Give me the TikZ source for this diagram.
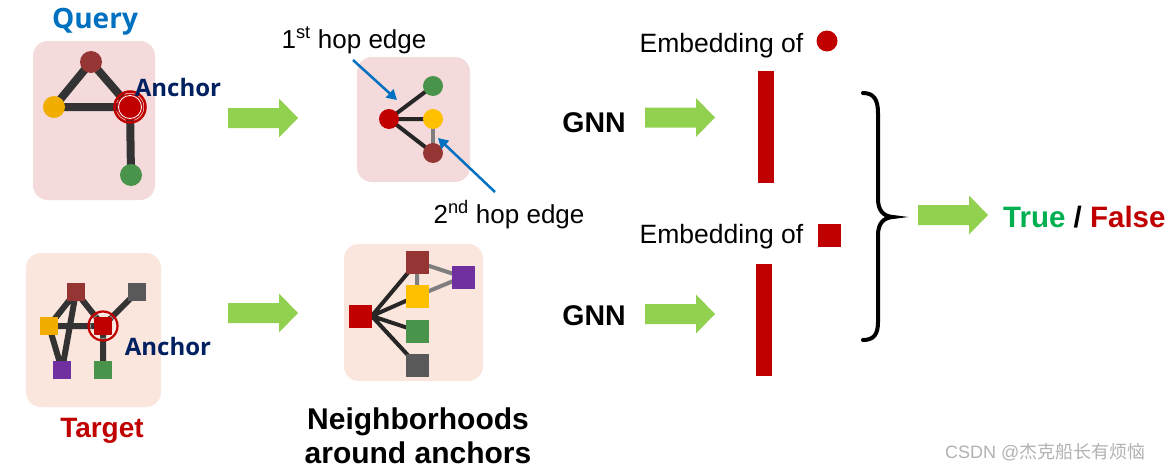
\documentclass[tikz,border=0pt]{standalone}
\usepackage{fontspec}
\setmainfont{Liberation Sans}
\newfontfamily\osb{Open Sans}
\newfontfamily\cjk{Noto Sans CJK SC}
\usetikzlibrary{arrows.meta}
\pgfdeclarelayer{back}
\pgfdeclarelayer{bg}
\pgfsetlayers{back,bg,main}
\definecolor{qbox}{HTML}{F4DADA}
\definecolor{tbox}{HTML}{FAE6DC}
\definecolor{dred}{HTML}{963634}
\definecolor{ylw}{HTML}{F2AE00}
\definecolor{ylw2}{HTML}{FFC000}
\definecolor{grn}{HTML}{4A934A}
\definecolor{rd}{HTML}{C00000}
\definecolor{gry}{HTML}{595959}
\definecolor{prp}{HTML}{7030A0}
\definecolor{edg}{HTML}{333333}
\definecolor{edg2}{HTML}{262626}
\definecolor{edgg}{HTML}{7F7F7F}
\definecolor{qblue}{HTML}{0070C0}
\definecolor{navy}{HTML}{002060}
\definecolor{arrg}{HTML}{92D050}
\definecolor{tgreen}{HTML}{00B050}
\tikzset{
  x=1pt, y=-1pt,
  box/.style={rounded corners=15pt},
  dot/.style={circle, inner sep=0pt, minimum size=22pt},
  sq/.style={rectangle, inner sep=0pt, minimum size=#1},
  txt/.style={inner sep=0pt, anchor=base},
  qedge/.style={line width=8pt, draw=edg},
  tedge/.style={line width=6pt, draw=edg},
  nedge/.style={line width=4pt, draw=edg2},
  gedge/.style={line width=4pt, draw=edgg},
  bluearrow/.style={draw=qblue, line width=2.5pt, -{Triangle[length=10pt,width=11pt]}},
}
\newcommand{\greenarrow}[2]{% left x, center y
  \fill[arrg] (#1,#2-10) -- (#1+51,#2-10) -- (#1+51,#2-19.5) -- (#1+70,#2) -- (#1+51,#2+19.5) -- (#1+51,#2+10) -- (#1,#2+10) -- cycle;}
\begin{document}
\begin{tikzpicture}
\begin{pgfonlayer}{back}
\useasboundingbox[fill=white] (0,0) rectangle (1171,471);
\fill[qbox, box] (33,41) rectangle (155,200);
\fill[tbox, box] (26,253) rectangle (161,407);
\fill[qbox, box] (357,57) rectangle (470,182);
\fill[tbox, box] (344,244) rectangle (483,381);
\end{pgfonlayer}

% ---------- Query ----------
\node[txt, font=\osb\bfseries\fontsize{28}{32}\selectfont, text=qblue] (qlabel) at (95,28) {Query};
\node[dot, fill=dred] (q1) at (91,62) {};
\node[dot, fill=ylw] (q2) at (54,107) {};
\node[circle, inner sep=0pt, minimum size=27pt, fill=rd] (qa) at (130,107) {};
\node[dot, fill=grn] (q4) at (131,175) {};
\draw[rd, line width=2.5pt] (qa.center) circle (15.5pt);
\draw[white, line width=0.8pt] (qa.center) circle (11.5pt);
\begin{pgfonlayer}{bg}
\draw[qedge] (q1.center) -- (q2.center) (q1.center) -- (qa.center) (q2.center) -- (qa.center) (qa.center) -- (q4.center);
\end{pgfonlayer}
\node[txt, font=\osb\bfseries\fontsize{24}{28}\selectfont, text=navy] (qanchor) at (178,96) {Anchor};

% ---------- Target ----------
\node[sq=18pt, fill=dred] (t1) at (76,292) {};
\node[sq=18pt, fill=gry] (t2) at (137,292) {};
\node[sq=18pt, fill=ylw] (t3) at (49,326) {};
\node[sq=18pt, fill=rd] (ta) at (103,326) {};
\node[sq=18pt, fill=prp] (t5) at (62,370) {};
\node[sq=18pt, fill=grn] (t6) at (103,370) {};
\draw[rd, line width=2.2pt] (ta.center) circle (14.5pt);
\draw[white, line width=0.5pt, opacity=0.7] (ta.center) circle (12.5pt);
\begin{pgfonlayer}{bg}
\draw[tedge] (t1.center) -- (t3.center) (t1.center) -- (ta.center) (t1.center) -- (t5.center)
  (t3.center) -- (ta.center) (t3.center) -- (t5.center) (ta.center) -- (t2.center) (ta.center) -- (t6.center);
\end{pgfonlayer}
\node[txt, font=\osb\bfseries\fontsize{24}{28}\selectfont, text=navy] (tanchor) at (168,355) {Anchor};
\node[txt, font=\bfseries\fontsize{28}{32}\selectfont, text=rd] (tlabel) at (102,437) {Target};

% ---------- green arrows ----------
\greenarrow{228}{118}
\greenarrow{228}{313}
\greenarrow{645}{117.5}
\greenarrow{645}{314}
\greenarrow{918}{215}

% ---------- Query neighbourhood ----------
\node[dot, minimum size=20pt, fill=rd] (n1) at (389,119) {};
\node[dot, minimum size=20pt, fill=grn] (n2) at (433,86) {};
\node[dot, minimum size=20pt, fill=ylw2] (n3) at (433,119) {};
\node[dot, minimum size=20pt, fill=dred] (n4) at (433,153) {};
\begin{pgfonlayer}{bg}
\draw[nedge] (n1.center) -- (n2.center) (n1.center) -- (n3.center) (n1.center) -- (n4.center);
\draw[gedge] (n3.center) -- (n4.center);
\end{pgfonlayer}
\node[txt, font=\fontsize{26}{30}\selectfont] (hop1) at (354,48) {1\textsuperscript{st} hop edge};
\node[txt, font=\fontsize{26}{30}\selectfont] (hop2) at (509,223) {2\textsuperscript{nd} hop edge};
\coordinate (h1s) at (353,60);
\coordinate (h1e) at (397,100);
\coordinate (h2s) at (495,192);
\coordinate (h2e) at (438,138);
\draw[bluearrow] (h1s) -- (h1e);
\draw[bluearrow] (h2s) -- (h2e);

% ---------- Target neighbourhood ----------
\node[sq=23pt, fill=rd] (m1) at (360,316) {};
\node[sq=23pt, fill=dred] (m2) at (417,262) {};
\node[sq=23pt, fill=ylw2] (m3) at (417,296) {};
\node[sq=23pt, fill=grn] (m4) at (417,331) {};
\node[sq=23pt, fill=gry] (m5) at (417,365) {};
\node[sq=23pt, fill=prp] (m6) at (463,277) {};
\begin{pgfonlayer}{bg}
\draw[nedge] (m1.east) -- (m2.center) (m1.east) -- (m3.center) (m1.east) -- (m4.center) (m1.east) -- (m5.center);
\draw[gedge] (m2.center) -- (m3.center) (m2.center) -- (m6.center) (m3.center) -- (m6.center);
\end{pgfonlayer}
\node[txt, font=\bfseries\fontsize{30}{34}\selectfont] (nlabel1) at (418,429) {Neighborhoods};
\node[txt, font=\bfseries\fontsize{30}{34}\selectfont] (nlabel2) at (418,463) {around anchors};

% ---------- GNN and embeddings ----------
\node[txt, font=\bfseries\fontsize{28.5}{32}\selectfont] (gnn1) at (594,132) {GNN};
\node[txt, font=\bfseries\fontsize{28.5}{32}\selectfont] (gnn2) at (594,325) {GNN};
\node[txt, font=\fontsize{26.5}{30}\selectfont] (emb1) at (721.5,52) {Embedding of};
\node[circle, inner sep=0pt, minimum size=21pt, fill=rd] (emb1c) at (827,41) {};
\node[txt, font=\fontsize{26.5}{30}\selectfont] (emb2) at (721.5,243) {Embedding of};
\node[sq=23pt, fill=rd] (emb2s) at (829.5,235.5) {};
\fill[rd] (758,71) rectangle (774,183);
\fill[rd] (756,264) rectangle (772,376);

% ---------- brace and result ----------
\draw[line width=4pt, line cap=round] (863,93) .. controls (874,93) and (878,100) .. (878,113) -- (878,199)
  .. controls (878,211) and (884,216.5) .. (893,217)
  .. controls (884,217.5) and (878,223) .. (878,235) -- (878,322)
  .. controls (878,334) and (874,340) .. (863,340);
\node[txt, anchor=base west, font=\bfseries\fontsize{29.5}{32}\selectfont] (result) at (1003,227)
  {\textcolor{tgreen}{True} / \textcolor{rd}{False}};

% ---------- watermark ----------
\node[txt, anchor=base west, font=\fontsize{18}{20}\selectfont, text=black!30] (wm) at (945,458) {CSDN @\cjk 杰克船长有烦恼};
\end{tikzpicture}
\end{document}
